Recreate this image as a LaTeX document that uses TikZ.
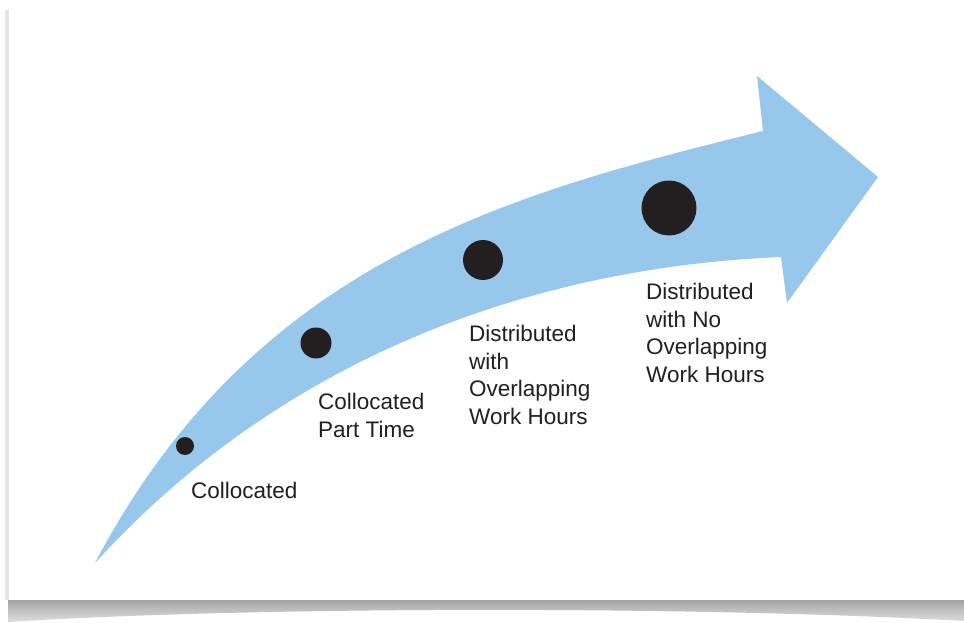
\documentclass[tikz,border=0pt]{standalone}
\usepackage{fontspec}
\setmainfont{Liberation Sans}
\definecolor{arrowblue}{HTML}{97C8EC}
\definecolor{dotblack}{HTML}{231F20}
\tikzset{
  dot/.style={circle, fill=dotblack, inner sep=0pt},
  lbl/.style={anchor=base west, align=left, inner sep=0pt, text=dotblack,
    font=\fontsize{22.5}{27.4}\selectfont}
}
\begin{document}
\begin{tikzpicture}[x=1pt,y=-1pt]
\useasboundingbox (0,0) rectangle (964,623);
\fill[white] (0,0) rectangle (964,623);
% card with shadow
\shade[top color=gray!75, bottom color=gray!25] (8,598) -- (964,598) -- (964,621)
  .. controls (700,606) and (260,606) .. (8,622) -- cycle;
\fill[gray!20] (5,10) rectangle (10,600);
\fill[white] (9,10) rectangle (964,600);
% the arrow
\fill[arrowblue] (95,563) .. controls (255,259) and (513,193) .. (763,131)
  -- (757,76) -- (878,177) -- (787,303) -- (781,257)
  .. controls (520,268) and (275,365) .. (95,563) -- cycle;
% stages
\node[dot, minimum size=18pt] (d1) at (185,446) {};
\node[dot, minimum size=31pt] (d2) at (316,343) {};
\node[dot, minimum size=40pt] (d3) at (483,260) {};
\node[dot, minimum size=55pt] (d4) at (669,208) {};
\node[lbl] (l1) at (191,498) {Collocated};
\node[lbl] (l2) at (318,437) {Collocated\\Part Time};
\node[lbl] (l3) at (469,424) {Distributed\\with\\Overlapping\\Work Hours};
\node[lbl] (l4) at (646,382) {Distributed\\with No\\Overlapping\\Work Hours};
\end{tikzpicture}
\end{document}
